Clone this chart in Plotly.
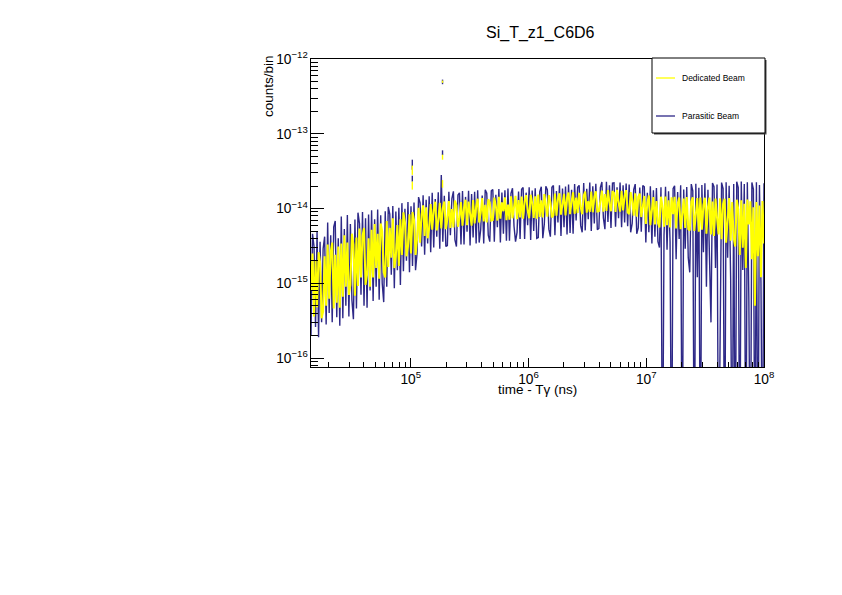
import numpy as np
import plotly.graph_objects as go

# ---------------- data ----------------
UNIT = 1e-15                   # counts/bin values below are in units of 1e-15
T_MIN, T_MAX = 1.42e4, 1.0e8   # time range of the histogram (ns)

dedicated = [
    0.8, 2.5, 0.36, 2.0, 0.48, 2.6, 1.9, 0.34, 0.42, 2.3,
    0.5, 3.3, 0.62, 2.6, 3.5, 0.46, 2.4, 0.55, 3.1, 0.47,
    3.4, 0.66, 4.4, 0.9, 3.5, 0.7, 0.95, 4.6, 3.3, 0.68,
    4.1, 0.92, 5.4, 1.2, 4.3, 5.5, 0.95, 1.3, 4.0, 0.9,
    5.2, 1.2, 6.2, 1.6, 4.6, 1.15, 6.3, 5.0, 1.4, 1.2,
    6.8, 1.65, 5.5, 2.2, 7.4, 1.6, 2.3, 6.0, 1.7, 7.2,
    2.4, 8.9, 6.6, 2.3, 3.1, 8.4, 2.5, 9.0, 7.0, 2.4,
    3.9, 10.2, 3.5, 8.3, 11.0, 4.3, 10.4, 4.0, 5.4, 11.5,
    5.2, 9.6, 12.3, 5.1, 6.8, 11.9, 5.4, 10.2, 12.4, 5.3,
    7.2, 12.6, 5.5, 9.8, 5.6, 12.8, 11.0, 5.7, 7.6, 12.2,
    5.9, 10.3, 13.1, 6.0, 12.4, 8.0, 5.9, 13.0, 6.3, 10.6,
    13.5, 6.5, 8.7, 13.8, 6.7, 11.2, 6.5, 13.3, 12.0, 6.9,
    7.0, 14.0, 10.8, 6.9, 14.3, 7.3, 12.1, 9.2, 14.1, 7.0,
    11.3, 7.1, 14.6, 7.4, 10.6, 14.8, 7.2, 13.0, 7.6, 14.4,
    7.3, 12.4, 15.1, 9.4, 7.4, 15.3, 11.7, 7.5, 14.6, 7.3,
    15.4, 7.7, 12.9, 7.6, 15.6, 10.0, 7.8, 15.1, 12.2, 7.6,
    8.1, 15.9, 8.0, 13.4, 16.0, 8.3, 11.0, 15.7, 8.1, 13.9,
    16.3, 8.4, 12.5, 16.5, 8.5, 14.0, 8.7, 16.2, 10.5, 8.4,
    14.8, 16.9, 8.8, 12.6, 9.0, 16.8, 8.9, 14.3, 17.0, 9.1,
    9.2, 13.8, 17.4, 9.1, 15.6, 9.3, 17.6, 11.8, 9.2, 17.1,
    16.2, 9.0, 17.8, 12.0, 9.1, 17.3, 9.4, 14.9, 17.6, 8.9,
    8.4, 16.6, 12.8, 8.0, 16.0, 7.8, 14.4, 15.8, 7.7, 10.6,
    14.7, 6.2, 11.9, 14.9, 6.0, 9.5, 14.2, 6.1, 12.6, 6.4,
    5.6, 14.4, 10.7, 5.7, 14.5, 6.0, 12.9, 5.6, 14.1, 8.4,
    14.3, 5.4, 11.5, 14.0, 5.3, 8.2, 13.6, 5.5, 14.2, 5.3,
    5.1, 12.3, 14.1, 5.0, 9.6, 13.8, 4.9, 14.0, 5.2, 11.1,
    13.9, 4.6, 10.4, 14.0, 4.5, 12.4, 4.3, 13.6, 7.5, 4.5,
    13.7, 3.9, 11.4, 13.5, 3.5, 8.6, 13.8, 3.7, 12.2, 4.0,
    3.1, 13.1, 9.8, 2.4, 12.9, 3.0, 11.6, 1.6, 13.2, 6.1,
    12.5, 2.1, 10.4, 0.5, 12.2, 2.3, 11.0, 1.2, 12.6, 3.4,
]

parasitic = [
    0.2, 4.6, 3.1, 0.26, 4.9, 0.19, 3.6, 0.3, 2.9, 4.2,
    0.28, 6.5, 0.4, 4.4, 0.3, 5.7, 6.8, 0.35, 4.0, 0.27,
    7.8, 0.34, 5.3, 0.5, 8.2, 0.36, 6.2, 0.6, 0.33, 7.1,
    0.46, 8.8, 6.3, 0.7, 9.0, 0.5, 7.4, 0.47, 8.3, 0.8,
    9.5, 0.58, 7.2, 0.9, 9.7, 0.6, 8.1, 1.0, 0.56, 9.2,
    0.9, 10.5, 8.4, 1.3, 10.8, 0.86, 9.1, 1.5, 10.2, 0.95,
    11.8, 1.45, 9.9, 2.0, 12.2, 1.4, 10.7, 1.7, 12.0, 1.5,
    2.5, 14.2, 11.9, 3.1, 15.0, 2.4, 13.1, 3.4, 14.6, 2.6,
    16.3, 3.0, 13.4, 4.2, 16.5, 2.9, 28.0, 3.6, 14.8, 3.1,
    3.2, 16.8, 4.4, 13.6, 17.0, 3.8, 3.1, 15.2, 16.2, 3.3,
    17.1, 3.3, 14.3, 4.9, 17.3, 3.2, 15.6, 4.1, 16.7, 3.4,
    17.6, 3.5, 5.2, 14.9, 3.4, 17.8, 16.0, 4.4, 3.6, 17.2,
    18.0, 3.6, 15.3, 5.6, 18.2, 3.5, 16.4, 4.6, 17.5, 3.7,
    18.5, 3.7, 15.9, 18.7, 5.8, 3.6, 4.8, 16.9, 3.9, 18.1,
    19.1, 3.9, 16.3, 6.0, 19.3, 3.8, 17.4, 5.0, 18.6, 4.0,
    4.1, 16.8, 19.6, 4.0, 6.2, 19.8, 17.9, 5.3, 4.2, 19.2,
    20.3, 4.4, 17.2, 6.5, 20.5, 4.3, 18.5, 5.6, 19.7, 4.5,
    21.0, 4.7, 17.8, 4.6, 21.3, 6.9, 19.2, 20.4, 5.9, 4.8,
    22.0, 5.1, 18.4, 7.2, 22.3, 5.0, 19.9, 6.3, 21.4, 5.2,
    5.4, 19.0, 22.6, 7.5, 5.3, 22.8, 6.6, 20.5, 5.5, 21.9,
    22.1, 5.7, 19.2, 7.4, 22.3, 5.6, 20.4, 6.5, 21.6, 5.8,
    21.0, 4.8, 6.3, 17.9, 21.2, 4.6, 5.5, 19.1, 4.9, 20.3,
    19.5, 3.5, 16.2, 4.8, 19.8, 3.4, 17.6, 4.2, 18.8, 3.6,
    3.0, 19.3, 0.001, 4.4, 19.5, 2.8, 17.0, 3.6, 0.001, 18.4,
    20.2, 2.1, 16.6, 3.9, 20.5, 0.001, 18.0, 2.9, 19.4, 2.2,
    1.4, 21.2, 17.3, 0.001, 21.5, 1.2, 19.0, 0.001, 20.6, 2.6,
    21.8, 0.9, 17.8, 2.7, 0.3, 22.0, 19.6, 1.6, 21.0, 0.001,
    0.7, 22.2, 18.5, 0.001, 22.5, 2.2, 20.1, 1.1, 0.001, 21.3,
    0.001, 22.8, 19.0, 0.001, 23.0, 1.5, 21.2, 0.001, 22.4, 0.6,
    0.001, 22.3, 18.2, 0.001, 22.5, 0.001, 20.6, 1.0, 0.001, 21.8,
]

# isolated high bins (drawn as vertical error-bar segments), units of 1e-15
ded_peak_t = [1.03e5, 1.03e5, 1.86e5, 1.86e5, 1.86e5]
ded_peak_lo = [28.2, 17.9, 45.0, 19.0, 480.0]
ded_peak_hi = [37.5, 22.9, 52.5, 24.0, 515.0]
par_peak_t = [1.03e5, 1.03e5, 1.86e5, 1.86e5]
par_peak_lo = [33.0, 22.9, 52.0, 460.0]
par_peak_hi = [45.0, 27.5, 60.0, 530.0]

series_names = ["Dedicated Beam", "Parasitic Beam"]
YELLOW = "#ffff00"
NAVY = "#2d2887"

# --------------- figure ----------------
def bins(vals):
    return np.logspace(np.log10(T_MIN), np.log10(T_MAX), len(vals))

def segs(t, lo, hi):
    xs, ys = [], []
    for ti, a, b in zip(t, lo, hi):
        xs += [ti, ti, None]
        ys += [a * UNIT, b * UNIT, None]
    return xs, ys

fig = go.Figure()
fig.add_trace(go.Scatter(x=bins(parasitic), y=np.array(parasitic) * UNIT, mode="lines",
                         line=dict(color=NAVY, width=1.4),
                         name=series_names[1], showlegend=False))
px_, py_ = segs(par_peak_t, par_peak_lo, par_peak_hi)
fig.add_trace(go.Scatter(x=px_, y=py_, mode="lines", line=dict(color=NAVY, width=1.4),
                         showlegend=False))
fig.add_trace(go.Scatter(x=bins(dedicated), y=np.array(dedicated) * UNIT, mode="lines",
                         line=dict(color=YELLOW, width=2.0),
                         name=series_names[0], showlegend=False))
dx_, dy_ = segs(ded_peak_t, ded_peak_lo, ded_peak_hi)
fig.add_trace(go.Scatter(x=dx_, y=dy_, mode="lines", line=dict(color=YELLOW, width=1.4),
                         showlegend=False))

FONT = "Liberation Sans, Arial, Helvetica, sans-serif"
OFF = 8                      # page margin of the html body
W, H = 834, 587
L, T = 303, 51
pw, ph = 453, 308
R, B = W - L - pw, H - T - ph

def pxx(x):  # page pixel -> paper
    return (x - OFF - L) / pw

def pxy(y):
    return (H - B - (y - OFF)) / ph

axis_common = dict(type="log", showline=True, linecolor="black", linewidth=1, mirror=True,
                   showgrid=False, zeroline=False, ticks="inside", tickcolor="black",
                   dtick=1, exponentformat="power", showexponent="all",
                   tickfont=dict(family=FONT, size=11, color="black"))

fig.update_layout(
    width=W, height=H, margin=dict(l=L, r=R, t=T, b=B),
    plot_bgcolor="white", paper_bgcolor="white", showlegend=False,
    xaxis=dict(range=[np.log10(T_MIN), 8.0], ticklen=9,
               minor=dict(ticks="inside", ticklen=5, dtick="D1", tickcolor="black", showgrid=False),
               **axis_common),
    yaxis=dict(range=[-16.12, -12.0], ticklen=13,
               minor=dict(ticks="inside", ticklen=7, dtick="D1", tickcolor="black", showgrid=False),
               **axis_common),
)

# titles
fig.add_annotation(text="Si_T_z1_C6D6", xref="paper", yref="paper", x=pxx(540), y=pxy(33),
                   showarrow=False, xanchor="center", yanchor="middle",
                   font=dict(family=FONT, size=16, color="black"))
fig.add_annotation(text="counts/bin", xref="paper", yref="paper", x=pxx(268), y=pxy(86),
                   textangle=-90, showarrow=False, xanchor="center", yanchor="middle",
                   font=dict(family=FONT, size=13.5, color="black"))
fig.add_annotation(text="time - Tγ (ns)", xref="paper", yref="paper", x=pxx(537), y=pxy(389),
                   showarrow=False, xanchor="center", yanchor="middle",
                   font=dict(family=FONT, size=13.5, color="black"))

# legend box (ROOT style with shadow)
lx0, lx1, ly0, ly1 = 652, 765, 58, 133
fig.add_shape(type="rect", xref="paper", yref="paper", x0=pxx(lx0 + 2), x1=pxx(lx1 + 1.5),
              y0=pxy(ly1 + 1.5), y1=pxy(ly0 + 2), fillcolor="#444444", line=dict(width=0),
              layer="above")
fig.add_shape(type="rect", xref="paper", yref="paper", x0=pxx(lx0), x1=pxx(lx1),
              y0=pxy(ly1), y1=pxy(ly0), fillcolor="white", line=dict(color="black", width=1),
              layer="above")
for name, col, yy in [(series_names[0], YELLOW, 78), (series_names[1], NAVY, 116)]:
    fig.add_shape(type="line", xref="paper", yref="paper", x0=pxx(656), x1=pxx(675),
                  y0=pxy(yy), y1=pxy(yy), line=dict(color=col, width=1.3), layer="above")
    fig.add_annotation(text=name, xref="paper", yref="paper", x=pxx(680), y=pxy(yy),
                       showarrow=False, xanchor="left", yanchor="middle",
                       font=dict(family=FONT, size=8.5, color="black"))

fig.write_html("out.html")
